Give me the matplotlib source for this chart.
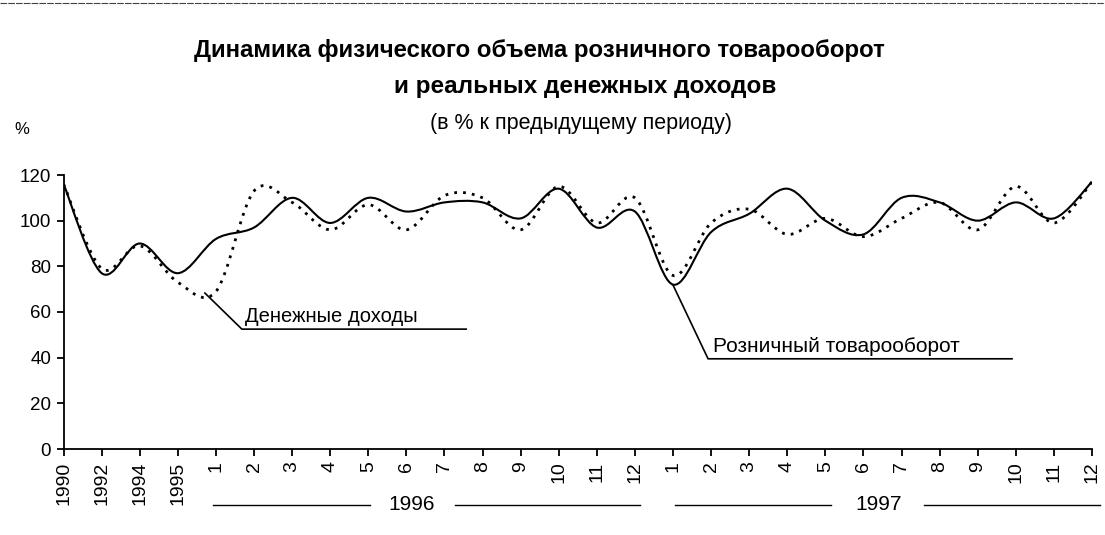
import matplotlib
matplotlib.use("Agg")
import matplotlib.pyplot as plt
from matplotlib.path import Path
from matplotlib.patches import PathPatch

plt.rcParams['font.family'] = ['Liberation Sans', 'DejaVu Sans']

# подписи оси X: годы, затем месяцы 1996 и 1997
labels = ['1990', '1992', '1994', '1995'] + [str(m) for m in range(1, 13)] * 2

# розничный товарооборот (сплошная)
retail = [116, 77, 90, 77, 92, 97, 110, 99, 110, 104, 108, 108, 101, 114,
          97, 104, 72, 95, 103, 114, 100, 94, 110, 108, 100, 108, 101, 117]
# денежные доходы (пунктир)
income = [116, 79, 89, 73, 69, 113, 108, 96, 107, 96, 111, 110, 96, 115,
          99, 110, 76, 99, 105, 94, 101, 93, 101, 108, 96, 115, 99, 117]

yticks = [0, 20, 40, 60, 80, 100, 120]


def smooth_path(xs, ys):
    # сглаженная линия как в Excel: кубические кривые Безье
    verts = [(xs[0], ys[0])]
    codes = [Path.MOVETO]
    n = len(xs)
    for i in range(n - 1):
        x0, y0 = xs[max(i - 1, 0)], ys[max(i - 1, 0)]
        x1, y1 = xs[i], ys[i]
        x2, y2 = xs[i + 1], ys[i + 1]
        x3, y3 = xs[min(i + 2, n - 1)], ys[min(i + 2, n - 1)]
        c1 = (x1 + (x2 - x0) / 6, y1 + (y2 - y0) / 6)
        c2 = (x2 - (x3 - x1) / 6, y2 - (y3 - y1) / 6)
        verts += [c1, c2, (x2, y2)]
        codes += [Path.CURVE4] * 3
    return Path(verts, codes)


W, H = 1105, 535
fig = plt.figure(figsize=(W / 100, H / 100), dpi=100)
ax = fig.add_axes([63.6 / W, 1 - 449 / H, (1092 - 63.6) / W, (449 - 175) / H])

x = list(range(len(labels)))
ax.add_patch(PathPatch(smooth_path(x, income), fill=False, color='black',
                       lw=2.0, linestyle=(0, (1, 2.2))))
ax.add_patch(PathPatch(smooth_path(x, retail), fill=False, color='black', lw=1.5))

ax.set_xlim(0, len(labels) - 1)
ax.set_ylim(0, 120)
ax.set_xticks(x)
ax.set_xticklabels(labels, rotation=90, fontsize=14)
ax.set_yticks(yticks)
ax.set_yticklabels([str(v) for v in yticks], fontsize=13.5)
ax.tick_params(direction='out', length=5, width=1.3, colors='black', pad=4)
for s in ['top', 'right']:
    ax.spines[s].set_visible(False)
for s in ['left', 'bottom']:
    ax.spines[s].set_linewidth(1.3)

# выноски
ax.plot([3.71, 4.68, 10.57], [68.3, 52.5, 52.5], color='black', lw=1.2, clip_on=False)
ax.text(4.75, 53.8, 'Денежные доходы', fontsize=14.5, va='bottom', ha='left')
ax.plot([16.0, 16.92, 24.9], [71.8, 39.5, 39.5], color='black', lw=1.2, clip_on=False)
ax.text(17.05, 40.8, 'Розничный товарооборот', fontsize=15, va='bottom', ha='left')

# заголовок
fig.text(539 / W, 1 - 50 / H, 'Динамика физического объема розничного товарооборот',
         ha='center', va='center', fontsize=17.3, fontweight='bold')
fig.text(585 / W, 1 - 87 / H, 'и реальных денежных доходов',
         ha='center', va='center', fontsize=17.5, fontweight='bold')
fig.text(581 / W, 1 - 123 / H, '(в % к предыдущему периоду)',
         ha='center', va='center', fontsize=15.5)
fig.text(22 / W, 1 - 130 / H, '%', ha='center', va='center', fontsize=12)

# годы под осью
yy = 1 - 505 / H
for x0, x1 in [(213, 370), (455, 640), (675, 831), (924, 1100)]:
    fig.add_artist(plt.Line2D([x0 / W, x1 / W], [yy, yy], color='black', lw=1.0))
fig.text(412 / W, yy, '1996', ha='center', va='center', fontsize=15)
fig.text(879 / W, yy, '1997', ha='center', va='center', fontsize=15)

# линия сверху (край скана)
fig.add_artist(plt.Line2D([0, 1], [1 - 3 / H, 1 - 3 / H], color='#444444', lw=0.8,
                          linestyle=(0, (6, 1))))

fig.savefig('out.png', dpi=100)
